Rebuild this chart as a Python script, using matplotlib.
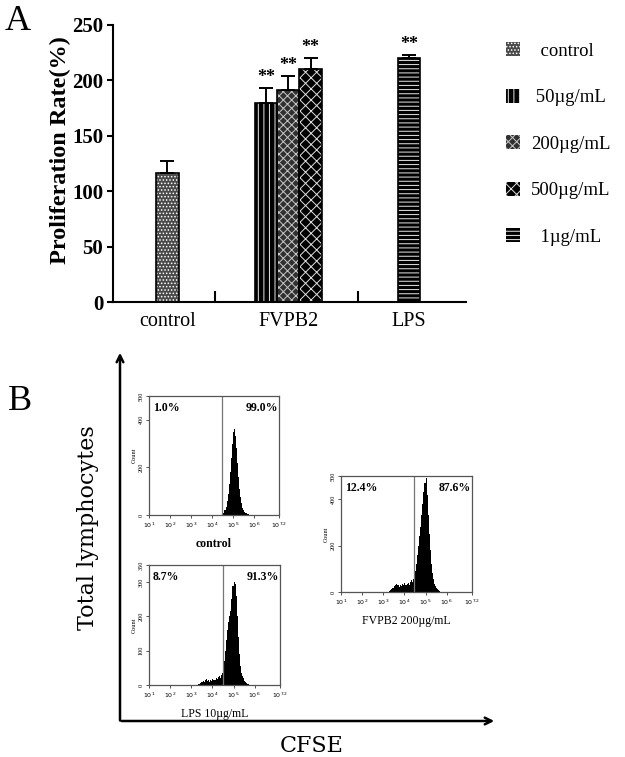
import numpy as np
import matplotlib
matplotlib.use('Agg')
import matplotlib.pyplot as plt
from matplotlib.patches import Patch, FancyArrowPatch
from matplotlib.ticker import FixedLocator, FixedFormatter, LogLocator, NullFormatter

plt.rcParams['font.family'] = 'serif'
plt.rcParams['font.serif'] = ['Liberation Serif', 'DejaVu Serif']
plt.rcParams['hatch.linewidth'] = 0.7

# ---------------- data: panel A ----------------
categories = ['control', 'FVPB2', 'LPS']
series_labels = ['control', '50µg/mL', '200µg/mL', '500µg/mL', '1µg/mL']
series_group = [0, 1, 1, 1, 2]
series_slot = [0, -1, 0, 1, 0]
means = [116, 180, 191, 210, 220]
errs = [11, 13, 13, 10, 3]
signif = ['', '**', '**', '**', '**']
yticks_a = [0, 50, 100, 150, 200, 250]

# ---------------- data: panel B (flow histograms, log10 bins of 0.05) ----------------
hist_bin = 0.05
ctrl_start = 4.50
ctrl_counts = [5, 10, 20, 35, 60, 90, 130, 180, 240, 300, 350, 360, 330, 280,
               220, 160, 110, 75, 50, 30, 20, 12, 8, 5, 3, 1]
lps_start = 3.30
lps_counts = [2, 4, 6, 8, 10, 12, 10, 14, 18, 12, 16, 10, 14, 12, 18, 14, 16, 20,
              18, 22, 25, 20, 28, 35, 50, 70, 100, 130, 160, 185, 200, 215, 250,
              290, 300, 295, 260, 200, 140, 90, 55, 35, 25, 20, 12, 8, 5, 3, 2, 1]
fvpb_start = 3.20
fvpb_counts = [2, 5, 8, 12, 18, 15, 25, 30, 35, 28, 32, 22, 30, 25, 35, 28, 38, 30,
               35, 40, 32, 45, 50, 42, 55, 70, 90, 120, 160, 200, 240, 280, 330, 380,
               430, 470, 490, 420, 330, 250, 180, 120, 80, 55, 35, 25, 18, 12, 8, 5, 2]
x_tick_exps = [1, 2, 3, 4, 5, 6, 7.2]
x_tick_labels = ['$10^{1}$', '$10^{2}$', '$10^{3}$', '$10^{4}$', '$10^{5}$', '$10^{6}$', '$10^{7.2}$']

fig = plt.figure(figsize=(6.25, 7.57), dpi=100)

# ---------------- panel A ----------------
bar_w = 0.185
styles = [
    dict(face='#4a4a4a', hcol='white', hatch='.....'),
    dict(face='black', hcol='#e8e8e8', hatch='|||'),
    dict(face='#303030', hcol='#c8c8c8', hatch='xxxx'),
    dict(face='black', hcol='#e0e0e0', hatch='xxx'),
    dict(face='black', hcol='#e8e8e8', hatch='----'),
]
ax = fig.add_axes([0.1808, 0.601, 0.5648, 0.366])
handles = []
for i in range(len(means)):
    x = series_group[i] + series_slot[i] * bar_w
    st = styles[i]
    ax.bar(x, means[i], width=bar_w, color=st['face'], edgecolor=st['hcol'],
           hatch=st['hatch'], linewidth=0, zorder=2)
    ax.bar(x, means[i], width=bar_w, fill=False, edgecolor='black', linewidth=1.2, zorder=3)
    ax.errorbar(x, means[i], yerr=[[0], [errs[i]]], fmt='none', ecolor='black',
                elinewidth=1.4, capsize=5, capthick=1.4, zorder=4)
    if signif[i]:
        ax.text(x, means[i] + errs[i] + 2, signif[i], ha='center', va='bottom',
                fontsize=13, fontweight='bold')
    handles.append(Patch(facecolor=st['face'], edgecolor=st['hcol'], hatch=st['hatch'],
                         linewidth=0))

ax.set_xlim(-0.45, 2.47)
ax.set_ylim(0, 250)
for s in ['top', 'right']:
    ax.spines[s].set_visible(False)
for s in ['left', 'bottom']:
    ax.spines[s].set_linewidth(1.5)
ax.set_yticks(yticks_a)
ax.set_yticklabels([str(v) for v in yticks_a], fontsize=15, fontweight='bold')
ax.tick_params(axis='y', direction='out', length=4, width=1.5, pad=3)
ax.set_xticks([0, 1, 2])
ax.set_xticklabels(categories, fontsize=14.5)
ax.tick_params(axis='x', which='major', length=0, pad=7)
ax.set_xticks([0.39, 1.58], minor=True)
ax.tick_params(axis='x', which='minor', direction='in', length=8, width=1.5)
ax.set_ylabel('Proliferation Rate(%)', fontsize=17.5, fontweight='bold')
ax.yaxis.set_label_coords(-0.118, 0.55)

legend_labels = ['  control', ' 50µg/mL', '200µg/mL', '500µg/mL', '  1µg/mL']
fig.legend(handles, legend_labels, loc='upper left', bbox_to_anchor=(0.8096, 0.944),
           frameon=False, fontsize=13.5, handlelength=0.75, handleheight=0.75,
           handletextpad=0.6, labelspacing=1.55, borderpad=0, borderaxespad=0)

fig.text(0.008, 0.972, 'A', fontsize=26, ha='left', va='center')
fig.text(0.012, 0.47, 'B', fontsize=26, ha='left', va='center')

# ---------------- panel B ----------------
def hist_panel(rect, start, counts, ymax, yticks, gate, lpct, rpct, title, bold):
    hx = fig.add_axes(rect)
    edges = start + hist_bin * np.arange(len(counts) + 1)
    hx.stairs(counts, 10 ** edges, fill=True, color='black', baseline=0)
    hx.set_xscale('log')
    hx.set_xlim(10, 10 ** 7.2)
    hx.set_ylim(0, ymax)
    hx.xaxis.set_major_locator(FixedLocator([10 ** e for e in x_tick_exps]))
    hx.xaxis.set_major_formatter(FixedFormatter(x_tick_labels))
    hx.xaxis.set_minor_locator(LogLocator(base=10, subs=np.arange(2, 10)))
    hx.xaxis.set_minor_formatter(NullFormatter())
    hx.set_yticks(yticks)
    hx.set_yticklabels([str(v) for v in yticks], rotation=90, va='center')
    hx.tick_params(labelsize=4.5, length=2.5, width=0.6, pad=1.5, color='#333')
    hx.tick_params(which='minor', length=1.5, width=0.5)
    for s in hx.spines.values():
        s.set_color('#555')
        s.set_linewidth(0.9)
    hx.axvline(10 ** gate, color='#777', lw=0.9)
    hx.set_ylabel('Count', fontsize=4.5, labelpad=1.5)
    hx.text(0.03, 0.95, lpct, transform=hx.transAxes, ha='left', va='top',
            fontsize=8.5, fontweight='bold')
    hx.text(0.995, 0.95, rpct, transform=hx.transAxes, ha='right', va='top',
            fontsize=8.5, fontweight='bold')
    hx.set_xlabel(title, fontsize=8.5, fontweight='bold' if bold else 'normal', labelpad=6)
    return hx

hist_panel([0.2384, 0.3197, 0.208, 0.1572], ctrl_start, ctrl_counts, 500,
           [0, 200, 400, 500], 4.5, '1.0%', '99.0%', 'control', True)
hist_panel([0.2384, 0.0951, 0.2096, 0.1585], lps_start, lps_counts, 350,
           [0, 100, 200, 300, 350], 4.5, '8.7%', '91.3%', 'LPS 10µg/mL', False)
hist_panel([0.5456, 0.218, 0.2096, 0.1532], fvpb_start, fvpb_counts, 500,
           [0, 200, 400, 500], 4.45, '12.4%', '87.6%', 'FVPB2 200µg/mL', False)

# big axes arrows
x0, y0 = 120 / 625, 1 - 721 / 757
fig.add_artist(FancyArrowPatch((x0, y0 - 0.003), (x0, 1 - 350 / 757),
                               transform=fig.transFigure, arrowstyle='->',
                               mutation_scale=12, lw=1.8, color='black'))
fig.add_artist(FancyArrowPatch((x0 - 0.002, y0), (497 / 625, y0),
                               transform=fig.transFigure, arrowstyle='->',
                               mutation_scale=12, lw=1.8, color='black'))
fig.text(88 / 625, 1 - 528 / 757, 'Total lymphocytes', rotation=90, ha='center',
         va='center', fontsize=16, family='DejaVu Serif')
fig.text(312 / 625, 1 - 746 / 757, 'CFSE', ha='center', va='center', fontsize=16,
         family='DejaVu Serif')

fig.savefig('out.png', dpi=100)
